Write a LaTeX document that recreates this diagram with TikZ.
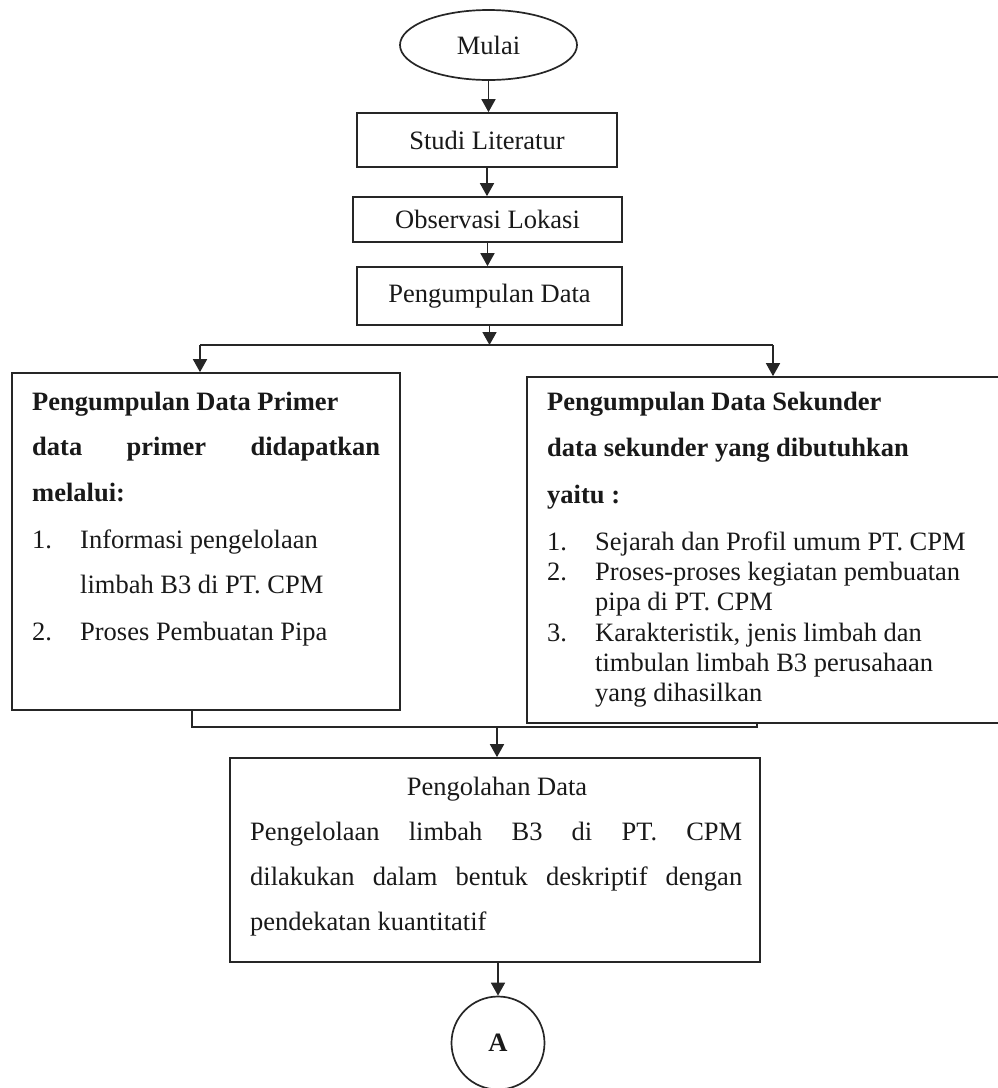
\documentclass[tikz,border=0pt]{standalone}
\usepackage{fontspec}
\setmainfont{Liberation Serif}
\usetikzlibrary{arrows.meta,shapes.geometric,calc}
\begin{document}
\begin{tikzpicture}[x=1pt,y=-1pt,
  every node/.style={font=\fontsize{26.5}{30}\selectfont, text=black!90},
  ln/.style={line width=1.7pt, draw=black!85},
  box/.style={draw=black!85, line width=1.7pt, rectangle, inner sep=0pt},
  txt/.style={anchor=base west, inner sep=0pt},
  arr/.style={ln, -{Triangle[length=13pt,width=14pt]}},
]
\useasboundingbox (0,0) rectangle (998,1088);

% main flow nodes
\node[ellipse, draw=black!85, line width=1.7pt, inner sep=0pt, minimum width=177pt, minimum height=70pt] (mulai) at (488.5,45) {Mulai};
\node[box, minimum width=260pt, minimum height=54pt] (studi) at (487,140) {Studi Literatur};
\node[box, minimum width=269pt, minimum height=45pt] (obs) at (487.5,219.5) {Observasi Lokasi};
\node[box, minimum width=265pt, minimum height=58pt] (kumpul) at (489.5,296) {Pengumpulan Data};
\node[box, minimum width=388pt, minimum height=337pt] (primer) at (206,541.5) {};
\node[box, minimum width=490pt, minimum height=346pt] (sekunder) at (772,550) {};
\node[box, minimum width=530pt, minimum height=204pt] (olah) at (495,860) {};
\node[circle, draw=black!85, line width=1.7pt, inner sep=0pt, minimum size=93pt, font=\fontsize{26.5}{30}\selectfont\bfseries] (A) at (498,1043) {A};

% primer text
\node[txt, font=\fontsize{26.5}{30}\selectfont\bfseries] (p1) at (32,410) {Pengumpulan Data Primer};
\node[txt, font=\fontsize{26.5}{30}\selectfont\bfseries] (p2) at (32,455) {\hbox to 348pt{data\hfill primer\hfill didapatkan}};
\node[txt, font=\fontsize{26.5}{30}\selectfont\bfseries] (p3) at (32,501) {melalui:};
\node[txt] (p4) at (32,548) {\makebox[48pt][l]{1.}Informasi pengelolaan};
\node[txt] (p5) at (80,593) {limbah B3 di PT. CPM};
\node[txt] (p6) at (32,640) {\makebox[48pt][l]{2.}Proses Pembuatan Pipa};

% sekunder text
\node[txt, font=\fontsize{26.5}{30}\selectfont\bfseries] (s1) at (547,410) {Pengumpulan Data Sekunder};
\node[txt, font=\fontsize{26.5}{30}\selectfont\bfseries] (s2) at (547,456) {data sekunder yang dibutuhkan};
\node[txt, font=\fontsize{26.5}{30}\selectfont\bfseries] (s3) at (547,503) {yaitu :};
\node[txt] (s4) at (547,550) {\makebox[48pt][l]{1.}Sejarah dan Profil umum PT. CPM};
\node[txt] (s5) at (547,580) {\makebox[48pt][l]{2.}Proses-proses kegiatan pembuatan};
\node[txt] (s6) at (595,610) {pipa di PT. CPM};
\node[txt] (s7) at (547,641) {\makebox[48pt][l]{3.}Karakteristik, jenis limbah dan};
\node[txt] (s8) at (595,671) {timbulan limbah B3 perusahaan};
\node[txt] (s9) at (595,701) {yang dihasilkan};

% pengolahan text
\node[anchor=base, inner sep=0pt] (o1) at (497,795) {Pengolahan Data};
\node[txt] (o2) at (250,840) {\hbox to 492pt{Pengelolaan\hfill limbah\hfill B3\hfill di\hfill PT.\hfill CPM}};
\node[txt] (o3) at (250,885) {\hbox to 492pt{dilakukan\hfill dalam\hfill bentuk\hfill deskriptif\hfill dengan}};
\node[txt] (o4) at (250,930) {pendekatan kuantitatif};

% connectors
\draw[arr] (mulai.south) -- (mulai.south |- studi.north);
\draw[arr] (studi.south) -- (studi.south |- obs.north);
\draw[arr] (obs.south) -- (obs.south |- kumpul.north);

\coordinate (split) at (490,345);
\coordinate (sl) at (200,345);
\coordinate (sr) at (773,345);
\draw[arr] (kumpul.south) -- (kumpul.south |- split);
\draw[ln] (sl) -- (sr);
\draw[arr] (sl) -- (sl |- primer.north);
\draw[arr] (sr) -- (sr |- sekunder.north);

\coordinate (ml) at (192,727);
\coordinate (mr) at (757,727);
\coordinate (merge) at (497,727);
\draw[ln] (primer.south -| ml) -- (ml) -- (mr) -- (sekunder.south -| mr);
\draw[arr] (merge) -- (merge |- olah.north);
\draw[arr] (olah.south -| A.north) -- (A.north);
\end{tikzpicture}
\end{document}
